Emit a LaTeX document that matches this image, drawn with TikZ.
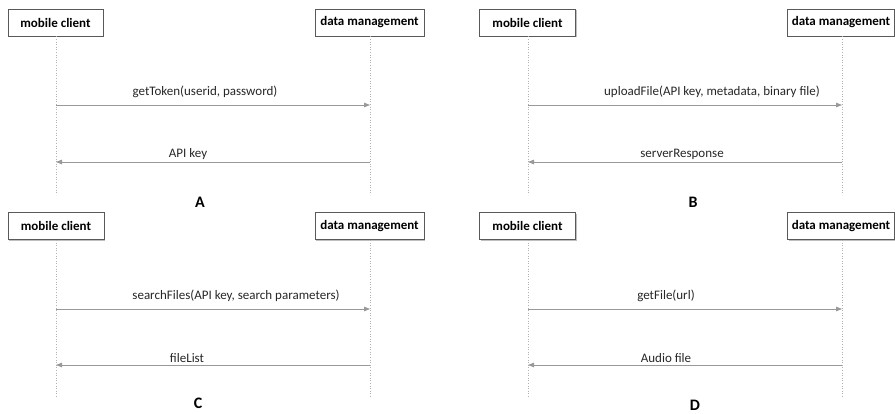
\documentclass[tikz,border=0pt]{standalone}
\usepackage{fontspec}
\setmainfont{Carlito}
\usetikzlibrary{arrows.meta,shadows}

\tikzset{
  actor/.style={draw=black!65, line width=0.8pt, fill=white, font=\bfseries\fontsize{13}{15}\selectfont,
    inner sep=0pt, drop shadow={shadow xshift=1pt, shadow yshift=-1.2pt, fill=black!25, opacity=1}},
  lifeline/.style={draw=black!30, dotted, line width=0.6pt},
  msg/.style={draw=black!40, line width=0.8pt, -{Triangle[length=6pt,width=4.5pt]}},
  lbl/.style={font=\fontsize{13}{15}\selectfont, text=black!85, inner sep=0pt},
  tag/.style={font=\bfseries\fontsize{16}{18}\selectfont, inner sep=0pt}
}

\begin{document}
\begin{tikzpicture}[x=1pt,y=-1pt]
\useasboundingbox (0,0) rectangle (895,413);

% ---------- panel A ----------
\node[actor, minimum width=95, minimum height=27] (mcA) at (55.5,22.5) {mobile client};
\node[actor, minimum width=109, minimum height=27] (dmA) at (369.5,22.5) {data management};
\coordinate (mcAend) at (56,195);
\coordinate (dmAend) at (370,195);
\draw[lifeline] (mcA.south -| mcAend) -- (mcAend);
\draw[lifeline] (dmA.south -| dmAend) -- (dmAend);
\coordinate (mcA1) at (56,105); \coordinate (dmA1) at (370,105);
\coordinate (mcA2) at (56,162); \coordinate (dmA2) at (370,162);
\draw[msg] (mcA1) -- (dmA1);
\draw[msg] (dmA2) -- (mcA2);
\node[lbl] (lA1) at (205,92) {getToken(userid, password)};
\node[lbl] (lA2) at (188,154) {API key};
\node[tag] (tA) at (200,202) {A};

% ---------- panel B ----------
\node[actor, minimum width=96, minimum height=27] (mcB) at (527.5,22.5) {mobile client};
\node[actor, minimum width=107, minimum height=27] (dmB) at (841,22.5) {data management};
\coordinate (mcBend) at (528,195);
\coordinate (dmBend) at (842,195);
\draw[lifeline] (mcB.south -| mcBend) -- (mcBend);
\draw[lifeline] (dmB.south -| dmBend) -- (dmBend);
\coordinate (mcB1) at (528,105); \coordinate (dmB1) at (842,105);
\coordinate (mcB2) at (528,162); \coordinate (dmB2) at (842,162);
\draw[msg] (mcB1) -- (dmB1);
\draw[msg] (dmB2) -- (mcB2);
\node[lbl] (lB1) at (712,92) {uploadFile(API key, metadata, binary file)};
\node[lbl] (lB2) at (682,154) {serverResponse};
\node[tag] (tB) at (693,202) {B};

% ---------- panel C ----------
\node[actor, minimum width=96, minimum height=27] (mcC) at (56,226) {mobile client};
\node[actor, minimum width=109, minimum height=27] (dmC) at (369.5,226) {data management};
\coordinate (mcCend) at (56,398);
\coordinate (dmCend) at (370,398);
\draw[lifeline] (mcC.south -| mcCend) -- (mcCend);
\draw[lifeline] (dmC.south -| dmCend) -- (dmCend);
\coordinate (mcC1) at (56,309); \coordinate (dmC1) at (370,309);
\coordinate (mcC2) at (56,365); \coordinate (dmC2) at (370,365);
\draw[msg] (mcC1) -- (dmC1);
\draw[msg] (dmC2) -- (mcC2);
\node[lbl] (lC1) at (236,296) {searchFiles(API key, search parameters)};
\node[lbl] (lC2) at (187,358) {fileList};
\node[tag] (tC) at (198,403) {C};

% ---------- panel D ----------
\node[actor, minimum width=96, minimum height=27] (mcD) at (527.5,226) {mobile client};
\node[actor, minimum width=107, minimum height=27] (dmD) at (841,226) {data management};
\coordinate (mcDend) at (528,398);
\coordinate (dmDend) at (842,398);
\draw[lifeline] (mcD.south -| mcDend) -- (mcDend);
\draw[lifeline] (dmD.south -| dmDend) -- (dmDend);
\coordinate (mcD1) at (528,309); \coordinate (dmD1) at (842,309);
\coordinate (mcD2) at (528,365); \coordinate (dmD2) at (842,365);
\draw[msg] (mcD1) -- (dmD1);
\draw[msg] (dmD2) -- (mcD2);
\node[lbl] (lD1) at (666,296) {getFile(url)};
\node[lbl] (lD2) at (666,358) {Audio file};
\node[tag] (tD) at (695,405) {D};
\end{tikzpicture}
\end{document}
